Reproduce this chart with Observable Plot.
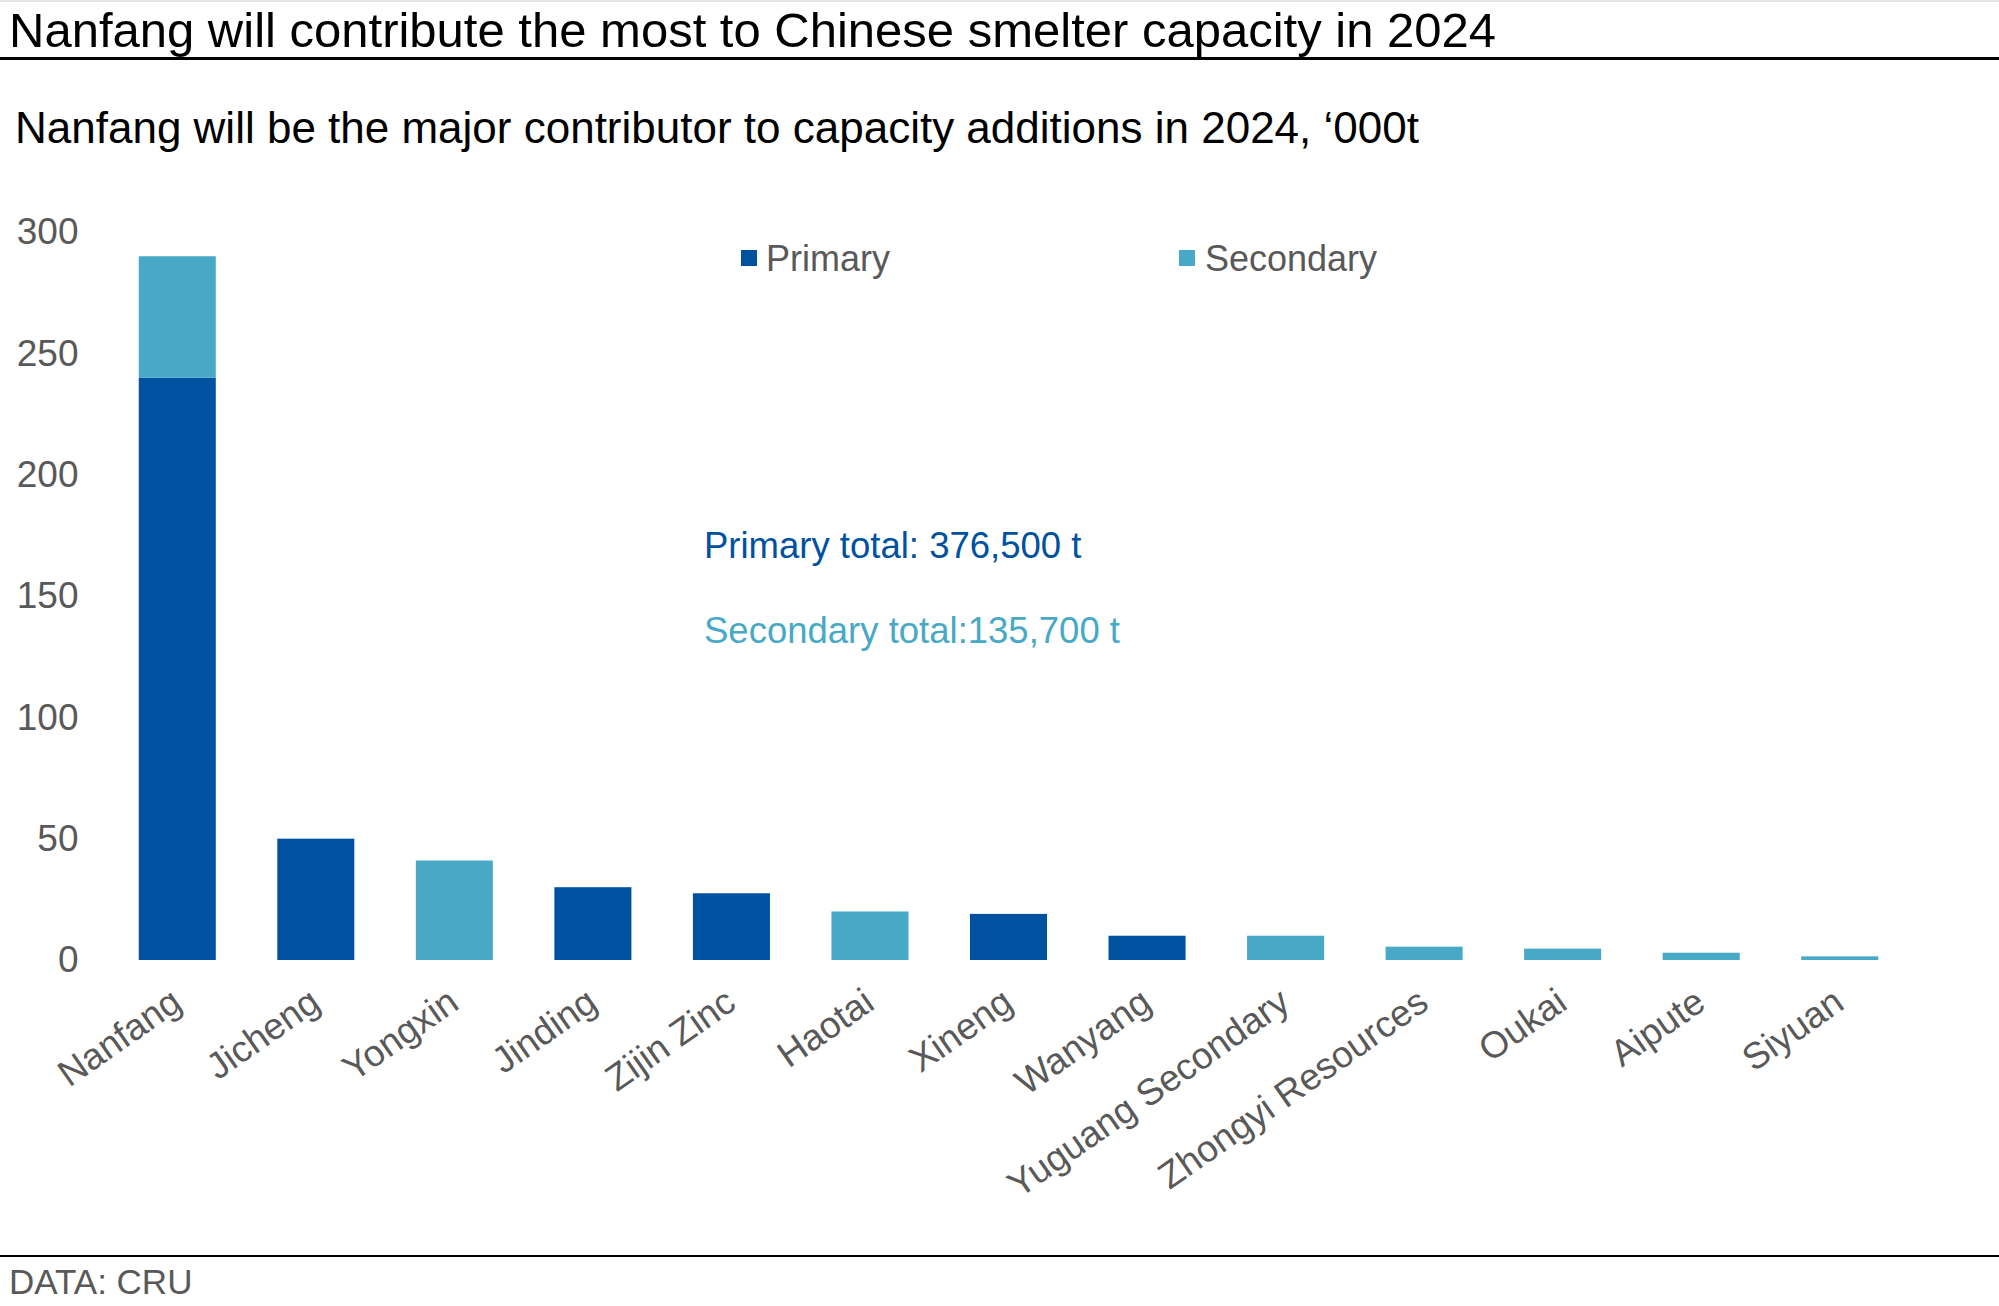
<!DOCTYPE html>
<html>
<head>
<meta charset="utf-8">
<script src="https://cdn.jsdelivr.net/npm/d3@7"></script>
<script src="https://cdn.jsdelivr.net/npm/@observablehq/plot@0.6"></script>
<style>
  html, body { margin: 0; padding: 0; background: #fff; }
  body { width: 1999px; height: 1306px; position: relative; overflow: hidden;
         font-family: "Liberation Sans", Arial, sans-serif; }
  .abs { position: absolute; white-space: nowrap; line-height: 1; }
  #chart { position: absolute; left: 0; top: 160px; }
  .sw { position: absolute; width: 16px; height: 16px; }
</style>
</head>
<body>
<div class="abs" style="left:0;top:0;width:1999px;height:2px;background:#e6e6e6"></div>
<div class="abs" id="title" style="left:9px;top:6px;font-size:49px;color:#000">Nanfang will contribute the most to Chinese smelter capacity in 2024</div>
<div class="abs" style="left:0;top:57px;width:1999px;height:3px;background:#000"></div>
<div class="abs" id="subtitle" style="left:15px;top:106px;font-size:44px;color:#000">Nanfang will be the major contributor to capacity additions in 2024, ‘000t</div>

<div id="chart"></div>

<div class="sw" id="swP" style="left:741px;top:250px"></div>
<div class="abs" style="left:766px;top:241px;font-size:36px;color:#595959">Primary</div>
<div class="sw" id="swS" style="left:1179px;top:250px"></div>
<div class="abs" style="left:1205px;top:241px;font-size:36px;color:#595959">Secondary</div>

<div class="abs" id="annP" style="left:704px;top:528px;font-size:36.5px"></div>
<div class="abs" id="annS" style="left:704px;top:613px;font-size:36.5px"></div>

<div class="abs" style="left:0;top:1255px;width:1999px;height:2px;background:#000"></div>
<div class="abs" style="left:9px;top:1264px;font-size:35px;color:#595959">DATA: CRU</div>

<script>
// ---- data ----
const categories = ["Nanfang","Jicheng","Yongxin","Jinding","Zijin Zinc","Haotai","Xineng","Wanyang","Yuguang Secondary","Zhongyi Resources","Oukai","Aipute","Siyuan"];
const primary    = [240, 50, 0, 30, 27.5, 0, 19, 10, 0, 0, 0, 0, 0];
const secondary  = [50, 0, 41, 0, 0, 20, 0, 0, 10, 5.5, 4.7, 3, 1.5];
const seriesNames = ["Primary", "Secondary"];
const seriesColors = ["#0051a0", "#48a9c7"];
const yTicks = [0, 50, 100, 150, 200, 250, 300];
const annotationTexts = ["Primary total: 376,500 t", "Secondary total:135,700 t"];

// ---- long table ----
const rows = [];
categories.forEach((c, i) => {
  rows.push({name: c, type: "Primary", value: primary[i]});
  rows.push({name: c, type: "Secondary", value: secondary[i]});
});

const chart = Plot.plot({
  width: 1999,
  height: 1090,
  marginTop: 72,
  marginBottom: 290,
  marginLeft: 108,
  marginRight: 90,
  style: {fontFamily: '"Liberation Sans", Arial, sans-serif', fontSize: "37px", color: "#595959", background: "transparent"},
  x: {domain: categories, paddingInner: 0.444, paddingOuter: 0.222, round: false, axis: null},
  y: {domain: [0, 300], axis: null},
  color: {domain: seriesNames, range: seriesColors},
  marks: [
    Plot.barY(rows, {x: "name", y: "value", fill: "type", order: seriesNames}),
    Plot.axisY({ticks: yTicks, tickSize: 0, tickPadding: 30, label: null, fill: "#595959", fontSize: 37}),
    Plot.text(categories, {
      x: d => d, frameAnchor: "bottom", text: d => d,
      rotate: -35, textAnchor: "end", lineAnchor: "bottom",
      dx: 6, dy: 47, fontSize: 37, fill: "#595959"
    })
  ]
});
document.getElementById("chart").appendChild(chart);

document.getElementById("swP").style.background = seriesColors[0];
document.getElementById("swS").style.background = seriesColors[1];
const aP = document.getElementById("annP");
aP.textContent = annotationTexts[0]; aP.style.color = seriesColors[0];
const aS = document.getElementById("annS");
aS.textContent = annotationTexts[1]; aS.style.color = seriesColors[1];
</script>
</body>
</html>
